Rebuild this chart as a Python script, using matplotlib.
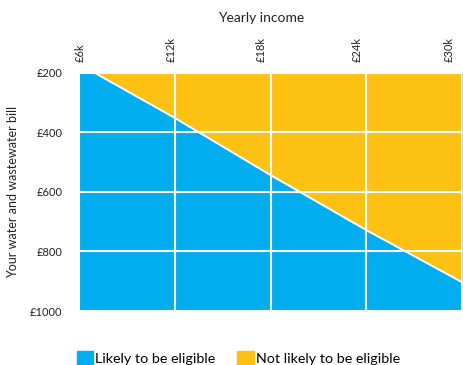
import matplotlib.pyplot as plt
from matplotlib.patches import Patch
from matplotlib.transforms import ScaledTranslation

# Income (£k) and the bill at which eligibility changes
income = [7, 12, 18, 24, 30]
bill_threshold = [200, 351, 543, 728, 903]

x_ticks = [6, 12, 18, 24, 30]
x_labels = ["£6k", "£12k", "£18k", "£24k", "£30k"]
y_ticks = [200, 400, 600, 800, 1000]
y_labels = ["£200", "£400", "£600", "£800", "£1000"]

blue = "#00aeef"
yellow = "#fdc113"

plt.rcParams["font.family"] = ["Lato", "DejaVu Sans"]

fig = plt.figure(figsize=(4.63, 3.65), dpi=100)
ax = fig.add_axes([79 / 463, 1 - 311 / 365, 383 / 463, 238 / 365])

ax.set_facecolor(blue)
ax.fill_between(income, 200, bill_threshold, color=yellow, linewidth=0)
ax.plot(income, bill_threshold, color="white", linewidth=1.4)

ax.set_xlim(6, 29.52)
ax.set_ylim(1000, 200)

ax.set_xticks(x_ticks)
ax.set_xticklabels(x_labels, rotation=90, fontsize=8, color="#222222", ha="center")
ax.set_yticks(y_ticks)
ax.set_yticklabels(y_labels, fontsize=8, color="#222222")
ax.xaxis.tick_top()
ax.xaxis.set_label_position("top")
ax.tick_params(axis="y", length=0, pad=12)
ax.tick_params(axis="x", length=0, pad=8)

# the top labels sit a little left of their gridlines in the original
label_shift_px = [1.5, -4, -9, -9.5, -12.5]
for lbl, dx in zip(ax.get_xticklabels(), label_shift_px):
    lbl.set_transform(lbl.get_transform() + ScaledTranslation(dx / 100, 0, fig.dpi_scale_trans))

ax.set_axisbelow(False)
ax.grid(True, color="white", linewidth=1.5)
for s in ax.spines.values():
    s.set_visible(False)

ax.set_xlabel("Yearly income", fontsize=10, color="#222222")
ax.xaxis.set_label_coords(0.475, 1.215)
ax.set_ylabel("Your water and wastewater bill", fontsize=9, color="#222222", labelpad=8)

handles = [Patch(color=blue, label="Likely to be eligible"),
           Patch(color=yellow, label="Not likely to be eligible")]
fig.legend(handles=handles, loc="lower left", bbox_to_anchor=(64 / 463, -0.035),
           ncol=2, frameon=False, fontsize=10.3, handlelength=1.15, handleheight=1.15,
           handletextpad=0.15, columnspacing=1.5)

fig.savefig("out.png", dpi=100)
